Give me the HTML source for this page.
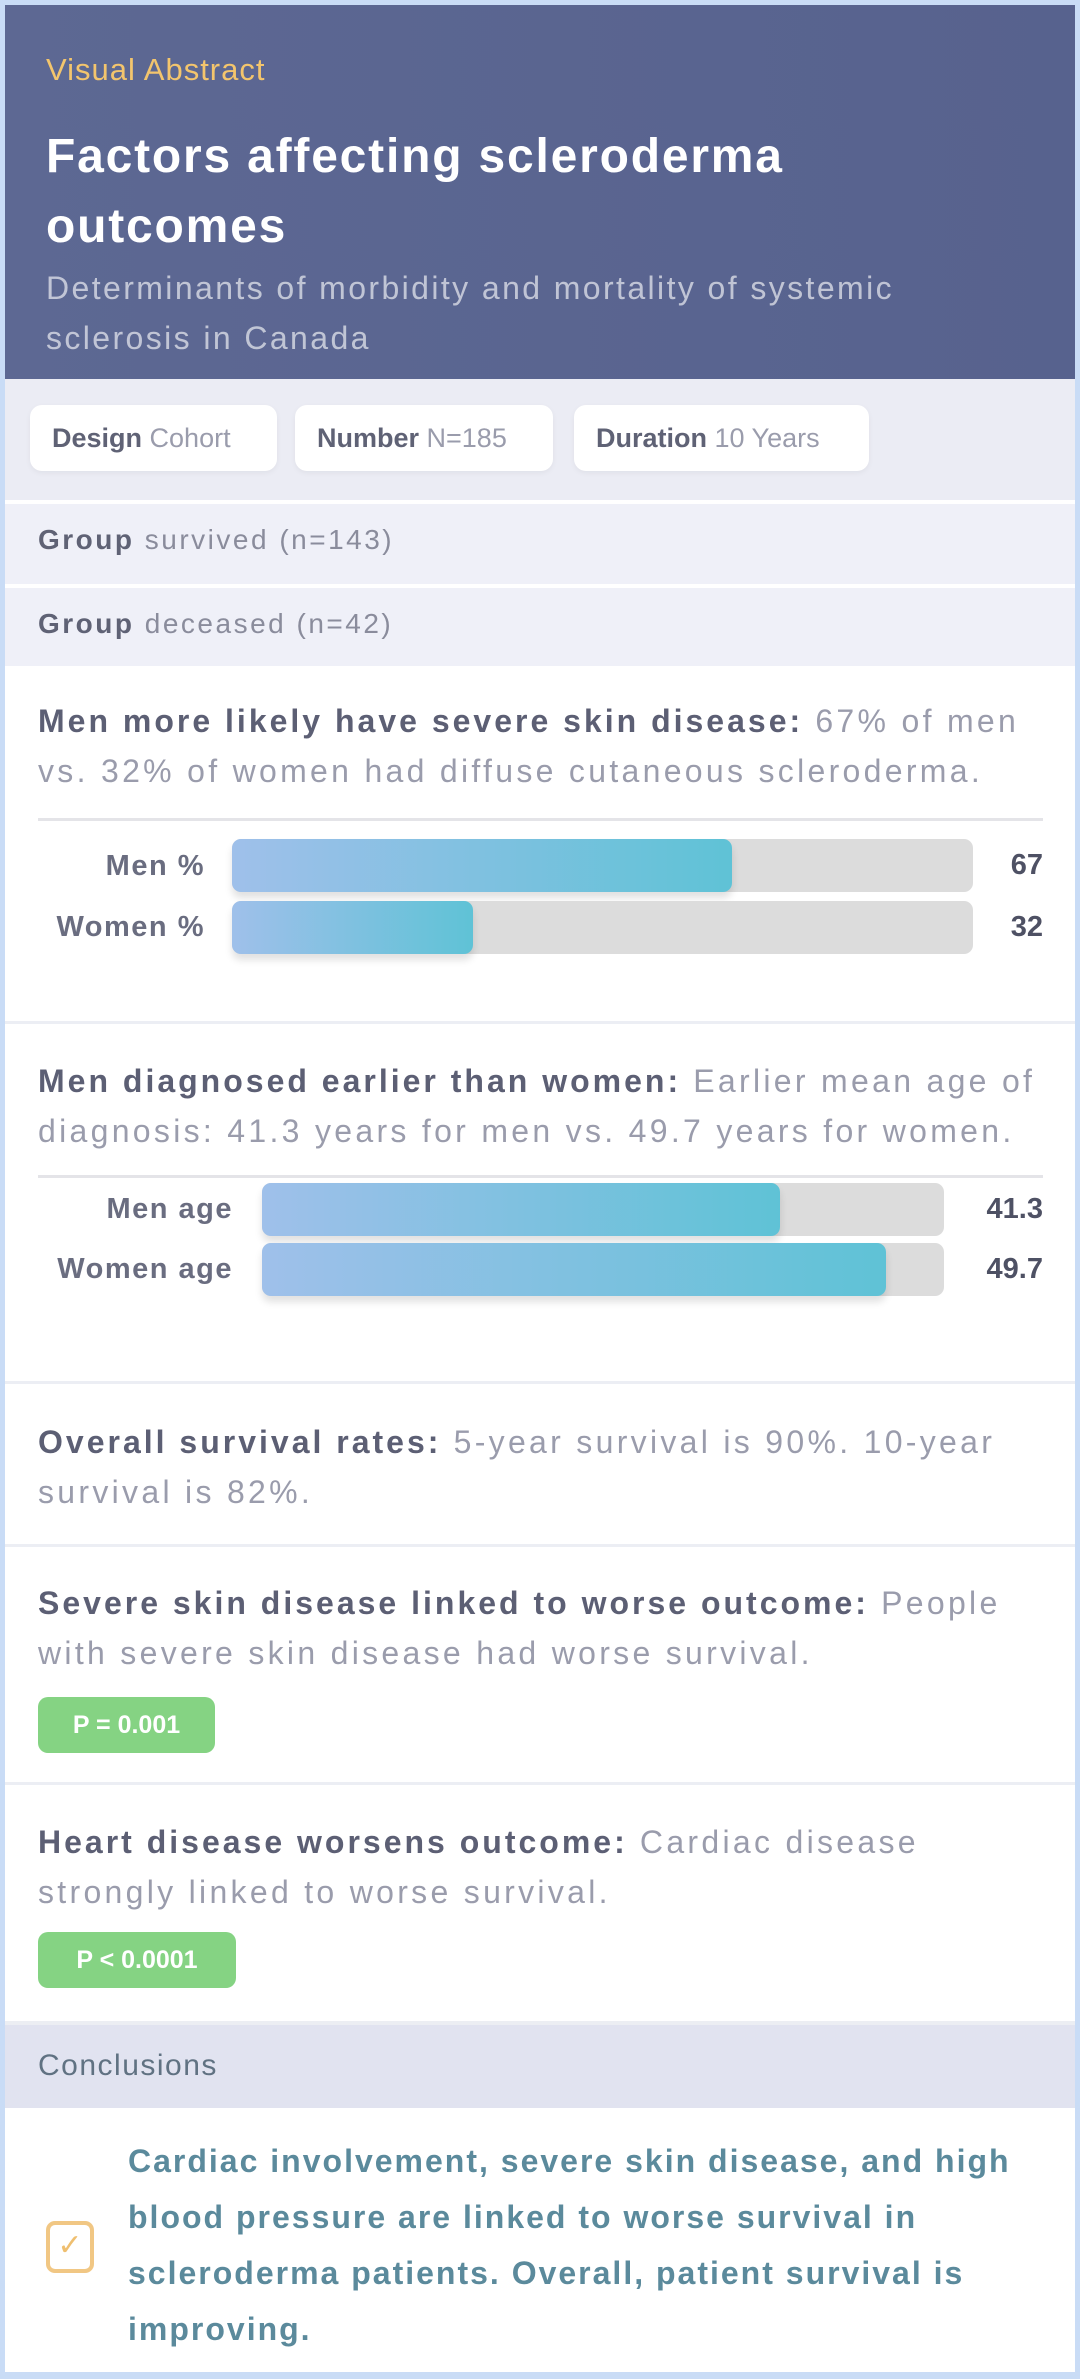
<!DOCTYPE html>
<html><head><meta charset="utf-8"><style>
*{margin:0;padding:0;box-sizing:border-box}
body{width:1080px;height:2379px;background:#c9dcf6;font-family:"Liberation Sans",sans-serif;overflow:hidden;position:relative}
.card{position:absolute;left:5px;top:5px;width:1070px;height:2367px;background:#fff;overflow:hidden}
.abs{position:absolute;white-space:nowrap}
.hdr{left:0;top:0;width:1070px;height:374px;background:linear-gradient(90deg,#5d6893,#57628e)}
.chipbar{left:0;top:374px;width:1070px;height:121px;background:#ebecf4}
.chip{position:absolute;top:26px;height:66px;background:#fff;border-radius:12px;font-size:27px;line-height:66px;padding-left:22px;color:#9a9cac;box-shadow:0 2px 6px rgba(0,0,0,.05)}
.chip b{color:#5f6275}
.grp{left:0;width:1070px;background:#eff0f8;font-size:28px;color:#8a8c9c;padding-left:33px;letter-spacing:2.5px}
.grp b{color:#5f6275}
.sep{left:0;width:1070px;height:3px;background:#eceef4}
.txt{left:33px;width:1010px;font-size:32px;line-height:50px;color:#9a9cac;letter-spacing:3.3px}
.txt b{color:#5c5f74;letter-spacing:3px}
.div{left:33px;width:1005px;height:3px;background:#e4e4e8}
.lbl{font-size:29px;color:#6a6d80;text-align:right;font-weight:bold;letter-spacing:1.5px}
.val{font-size:29px;color:#4e5164;font-weight:bold;text-align:right;width:100px}
.track{background:#dcdcdc;border-radius:9px;height:53px}
.fill{position:absolute;left:0;top:0;height:53px;border-radius:9px;background:linear-gradient(90deg,#9fc0ea,#5fc2d6);box-shadow:0 6px 8px rgba(0,0,0,.12)}
.pill{background:#85d383;color:#fff;font-size:25px;font-weight:bold;border-radius:10px;text-align:center;line-height:56px;height:56px}
</style></head><body>
<div class="card">
<div class="abs hdr"></div>
<div class="abs" style="left:41px;top:47px;font-size:31px;color:#f3c56d;letter-spacing:1px">Visual Abstract</div>
<div class="abs" style="left:41px;top:117px;font-size:48px;line-height:70px;color:#fff;font-weight:bold;letter-spacing:1.8px">Factors affecting scleroderma<br>outcomes</div>
<div class="abs" style="left:41px;top:258px;font-size:32px;line-height:50px;color:rgba(255,255,255,.62);letter-spacing:2.4px">Determinants of morbidity and mortality of systemic<br>sclerosis in Canada</div>
<div class="abs chipbar">
<div class="chip" style="left:25px;width:247px"><b>Design</b> Cohort</div>
<div class="chip" style="left:290px;width:258px"><b>Number</b> N=185</div>
<div class="chip" style="left:569px;width:295px"><b>Duration</b> 10 Years</div>
</div>
<div class="abs sep" style="top:495px;background:#fff;height:4px"></div>
<div class="abs grp" style="top:499px;height:80px;line-height:72px"><b>Group</b> survived (n=143)</div>
<div class="abs sep" style="top:579px;background:#fff;height:4px"></div>
<div class="abs grp" style="top:583px;height:78px;line-height:72px"><b>Group</b> deceased (n=42)</div>

<div class="abs txt" style="top:691px"><b>Men more likely have severe skin disease:</b> 67% of men<br>vs. 32% of women had diffuse cutaneous scleroderma.</div>
<div class="abs div" style="top:813px"></div>
<div class="abs lbl" style="left:0;width:200px;top:835px;line-height:53px">Men %</div>
<div class="abs track" style="left:227px;top:834px;width:741px"><div class="fill" style="width:500px"></div></div>
<div class="abs val" style="left:938px;top:834px;line-height:53px">67</div>
<div class="abs lbl" style="left:0;width:200px;top:896px;line-height:53px">Women %</div>
<div class="abs track" style="left:227px;top:896px;width:741px"><div class="fill" style="width:241px"></div></div>
<div class="abs val" style="left:938px;top:896px;line-height:53px">32</div>
<div class="abs sep" style="top:1016px"></div>

<div class="abs txt" style="top:1051px"><b>Men diagnosed earlier than women:</b> Earlier mean age of<br>diagnosis: 41.3 years for men vs. 49.7 years for women.</div>
<div class="abs div" style="top:1170px"></div>
<div class="abs lbl" style="left:0;width:228px;top:1178px;line-height:53px">Men age</div>
<div class="abs track" style="left:257px;top:1178px;width:682px"><div class="fill" style="width:518px"></div></div>
<div class="abs val" style="left:938px;top:1178px;line-height:53px">41.3</div>
<div class="abs lbl" style="left:0;width:228px;top:1238px;line-height:53px">Women age</div>
<div class="abs track" style="left:257px;top:1238px;width:682px"><div class="fill" style="width:624px"></div></div>
<div class="abs val" style="left:938px;top:1238px;line-height:53px">49.7</div>
<div class="abs sep" style="top:1376px"></div>

<div class="abs txt" style="top:1412px"><b>Overall survival rates:</b> 5-year survival is 90%. 10-year<br>survival is 82%.</div>
<div class="abs sep" style="top:1539px"></div>

<div class="abs txt" style="top:1573px"><b>Severe skin disease linked to worse outcome:</b> People<br>with severe skin disease had worse survival.</div>
<div class="abs pill" style="left:33px;top:1692px;width:177px">P = 0.001</div>
<div class="abs sep" style="top:1777px"></div>

<div class="abs txt" style="top:1812px"><b>Heart disease worsens outcome:</b> Cardiac disease<br>strongly linked to worse survival.</div>
<div class="abs pill" style="left:33px;top:1927px;width:198px">P &lt; 0.0001</div>

<div class="abs" style="left:0;top:2016px;width:1070px;height:87px;background:#e1e3f0;border-top:4px solid #eceef3"></div>
<div class="abs" style="left:33px;top:2016px;line-height:89px;font-size:30px;color:#607282;letter-spacing:1.5px">Conclusions</div>
<div class="abs" style="left:41px;top:2216px;width:48px;height:52px;border:4px solid #f1c784;border-radius:9px;color:#efbf70;font-size:30px;text-align:center;line-height:42px">✓</div>
<div class="abs" style="left:123px;top:2128px;font-size:32px;line-height:56px;color:#5b8a9c;font-weight:bold;letter-spacing:2px">Cardiac involvement, severe skin disease, and high<br>blood pressure are linked to worse survival in<br>scleroderma patients. Overall, patient survival is<br>improving.</div>
</div>
</body></html>
